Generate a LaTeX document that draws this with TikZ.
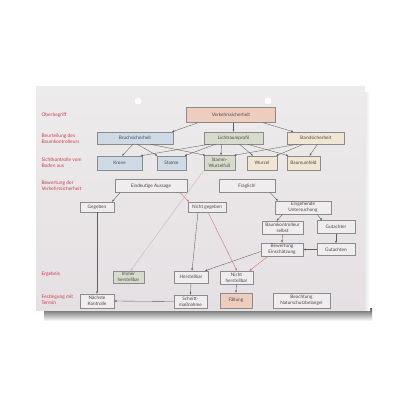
\documentclass[tikz,border=0pt]{standalone}
\usepackage{fontspec}
\setmainfont{Lato}
\usetikzlibrary{arrows.meta}

\definecolor{cardtop}{HTML}{EDEBEC}
\definecolor{cardbot}{HTML}{E5E0E3}
\definecolor{rimgray}{HTML}{8C8A8C}
\definecolor{textgray}{HTML}{4A4648}
\definecolor{lblred}{HTML}{C8404C}
\definecolor{linegray}{HTML}{5E5C5E}
\definecolor{linered}{HTML}{D06A78}
\definecolor{linepale}{HTML}{CDB1B3}
\definecolor{peach}{HTML}{EECDBF}
\definecolor{skyblue}{HTML}{CEDAE6}
\definecolor{sage}{HTML}{D6DBCC}
\definecolor{sand}{HTML}{F0E6D3}
\definecolor{plain}{HTML}{F0EDEF}

\tikzset{
  box/.style={draw=rimgray, line width=0.4pt, fill=#1, inner sep=0.5pt, align=center,
    text=textgray, font=\fontsize{4.7}{5.8}\selectfont},
  box/.default=plain,
  lvl/.style={anchor=west, align=left, text=lblred, font=\fontsize{4.9}{5.9}\selectfont},
  arr/.style={-{Latex[length=2.3pt,width=1.9pt]}, draw=linegray, line width=0.35pt},
  redarr/.style={arr, draw=linered},
  palearr/.style={arr, draw=linepale},
}

\begin{document}
\begin{tikzpicture}[x=1pt,y=-1pt]

\useasboundingbox (0,0) rectangle (400,400);
\fill[white] (0,0) rectangle (400,400);

\shade[top color=black!65, bottom color=white] (44,308) rectangle (372,321);
\shade[left color=black!10, right color=white] (364,92) rectangle (370,310);
\shade[top color=cardtop, bottom color=cardbot] (36,86) rectangle (365,310);
\fill[white, draw=black!12, line width=0.3pt] (138,101) circle (4);
\fill[white, draw=black!12, line width=0.3pt] (268,101) circle (4);

\node[lvl] (lblober) at (38,115) {Oberbegriff};
\node[lvl] (lblbeurt) at (38,139) {Beurteilung des\\Baumkontrolleurs};
\node[lvl] (lblsicht) at (38,163) {Sichtkontrolle vom\\Boden aus};
\node[lvl] (lblbewert) at (38,186) {Bewertung der\\Verkehrssicherheit};
\node[lvl] (lblergeb) at (38,274) {Ergebnis};
\node[lvl] (lbltermin) at (38,300) {Festlegung mit\\Termin};

\node[box=peach, minimum width=89, minimum height=15] (verkehr) at (231,115) {Verkehrssicherheit};

\node[box=skyblue, minimum width=76, minimum height=12] (bruch) at (135,138) {Bruchsicherheit};
\node[box=sage, minimum width=59, minimum height=12] (licht) at (233.5,138) {Lichtraumprofil};
\node[box=sand, minimum width=57, minimum height=12] (stand) at (315.5,138) {Standsicherheit};

\node[box=skyblue, minimum width=45, minimum height=14] (krone) at (119.5,163) {Krone};
\node[box=skyblue, minimum width=29, minimum height=14] (stamm) at (171.5,163) {Stamm};
\node[box=sage, minimum width=31, minimum height=15] (wurzelfuss) at (219.5,163) {Stamm-\\Wurzelfuß};
\node[box=sand, minimum width=30, minimum height=14] (wurzel) at (262,163) {Wurzel};
\node[box=sand, minimum width=33, minimum height=14] (umfeld) at (303.5,163) {Baumumfeld};

\node[box, minimum width=72, minimum height=13] (aussage) at (151,186) {Eindeutige Aussage};
\node[box, minimum width=56, minimum height=13] (fraglich) at (247,186) {Fraglich!};

\node[box, minimum width=34, minimum height=10] (gegeben) at (97,207) {Gegeben};
\node[box, minimum width=38, minimum height=10] (nichtgeg) at (207,207) {Nicht gegeben};
\node[box, minimum width=56, minimum height=13] (untersuch) at (303,207.5) {Eingehende\\Untersuchung};

\node[box, minimum width=41, minimum height=13] (selbst) at (282.5,227.5) {Baumkontrolleur\\selbst};
\node[box, minimum width=38, minimum height=13] (gutachter) at (336,227) {Gutachter};
\node[box, minimum width=42, minimum height=13] (bewertung) at (282,249.5) {Bewertung\\Einschätzung};
\node[box, minimum width=38, minimum height=12] (gutachten) at (336,249.5) {Gutachten};

\node[box=sage, minimum width=31, minimum height=12] (immer) at (128.5,277) {Immer\\herstellbar};
\node[box, minimum width=34, minimum height=12] (herst) at (191,277) {Herstellbar};
\node[box, minimum width=33, minimum height=13] (nichtherst) at (236.5,277.5) {Nicht\\herstellbar};

\node[box, minimum width=34, minimum height=14] (kontrolle) at (97,301) {Nächste\\Kontrolle};
\node[box, minimum width=33, minimum height=13] (schnitt) at (190.5,301.5) {Schnitt-\\maßnahme};
\node[box=peach, minimum width=32, minimum height=15] (faellung) at (236,300.5) {Fällung};
\node[box, minimum width=57, minimum height=15] (natur) at (301.5,300.5) {Beachtung\\Naturschutzbelange!};

\draw[arr] ([xshift=-33]verkehr.south) -- ([xshift=37]bruch.north);
\draw[arr] ([xshift=2.5]verkehr.south) -- (licht.north);
\draw[arr] ([xshift=32]verkehr.south) -- ([xshift=-22]stand.north);

\draw[arr] ([xshift=-2]bruch.south) -- ([xshift=2.5]krone.north);
\draw[arr] ([xshift=2]bruch.south) -- ([xshift=-14]stamm.north);
\draw[arr] ([xshift=15]bruch.south) -- ([xshift=-14]wurzelfuss.north);

\draw[arr] ([xshift=-24]licht.south) -- ([xshift=21]krone.north);
\draw[arr] ([xshift=-18]licht.south) -- ([xshift=13]stamm.north);
\draw[arr] ([xshift=-12]licht.south) -- ([xshift=1.5]wurzelfuss.north);
\draw[arr] ([xshift=6]licht.south) -- ([xshift=-9]wurzel.north);
\draw[arr] ([xshift=14]licht.south) -- ([xshift=-15]umfeld.north);

\draw[arr] ([xshift=-18]stand.south) -- ([xshift=14.5]wurzelfuss.north);
\draw[arr] ([xshift=-12]stand.south) -- ([xshift=14]wurzel.north);
\draw[arr] ([xshift=2]stand.south) -- ([xshift=6]umfeld.north);

\draw[arr] ([xshift=-31]aussage.south) -- ([xshift=15]gegeben.north);
\draw[redarr] ([xshift=29]aussage.south) -- ([xshift=-18]nichtgeg.north);
\draw[arr] ([xshift=23]fraglich.south) -- ([xshift=-25]untersuch.north);

\draw[arr] ([xshift=-20]untersuch.south) -- ([xshift=-6]selbst.north);
\draw[arr] ([xshift=14]untersuch.south) -- ([xshift=-14]gutachter.north);
\draw[arr] (selbst.south) -- (bewertung.north);
\draw[arr] (gutachter.south) -- (gutachten.north);
\draw[arr] (gutachten.west) -- (bewertung.east);

\draw[arr] ([yshift=-2]bewertung.west) -- ([xshift=14]herst.north);
\draw[redarr] ([xshift=-14]bewertung.south) -- ([xshift=13]nichtherst.north);
\draw[arr] ([xshift=-9]nichtgeg.south) -- ([xshift=1]herst.north);
\draw[redarr] ([xshift=1]nichtgeg.south) -- ([xshift=0.5]nichtherst.north);
\draw[palearr] ([xshift=-16]wurzelfuss.south) -- ([xshift=2]immer.north);

\draw[arr] (gegeben.south) -- (kontrolle.north);
\draw[arr] (herst.south) -- (schnitt.north);
\draw[arr] (nichtherst.south) -- (faellung.north);
\draw[arr] (schnitt.west) -- (kontrolle.east);

\end{tikzpicture}
\end{document}
